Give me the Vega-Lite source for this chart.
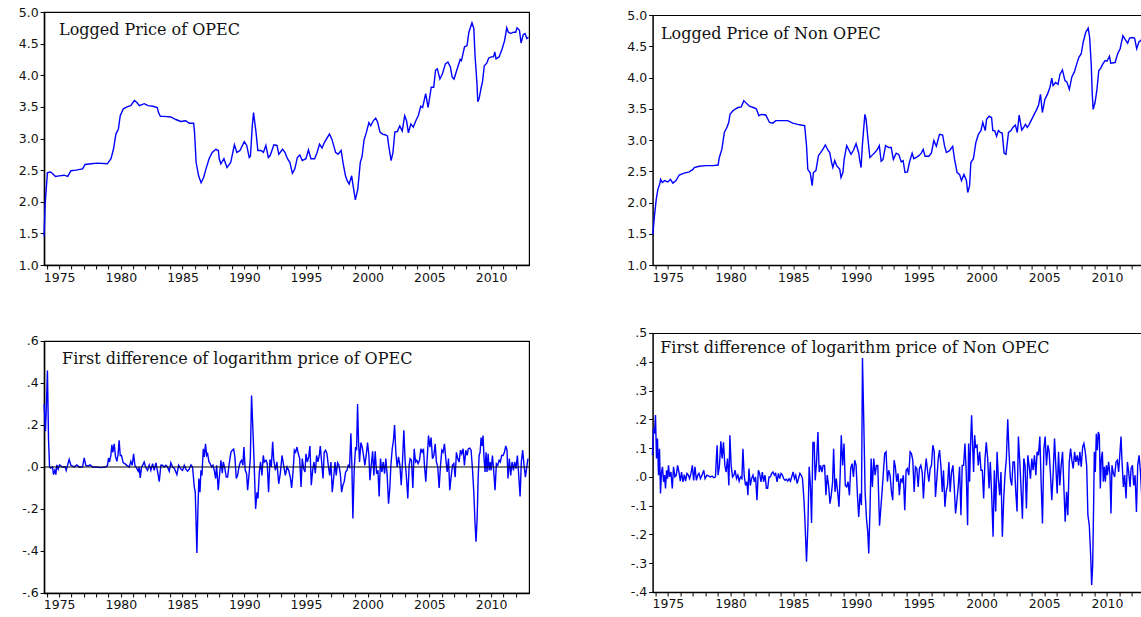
{
  "$schema": "https://vega.github.io/schema/vega-lite/v6.json",
  "background": "white",
  "padding": {"left": 17.1, "top": 5, "right": 0, "bottom": 0},
  "config": {
    "view": {"stroke": "black", "strokeWidth": 1.2},
    "axis": {"labelFont": "DejaVu Sans", "labelFontSize": 12.5, "labelColor": "#111", "tickColor": "black", "domainColor": "black", "domainWidth": 1.5, "tickWidth": 1, "grid": false, "title": null, "tickSize": 4, "labelPadding": 2, "labelOverlap": false, "labelFlush": false},
    "title": {"font": "DejaVu Serif", "fontSize": 16, "fontWeight": "normal", "anchor": "start", "frame": "group", "baseline": "alphabetic", "color": "#111"},
    "line": {"color": "#0000FF", "strokeWidth": 1.4, "clip": true}
  },
  "datasets": {
    "opec": [
      {"t":1973.78,"v":1.45},{"t":1973.86,"v":1.95},{"t":1974.05,"v":2.46},{"t":1974.3,"v":2.47},{"t":1974.5,"v":2.44},{"t":1974.7,"v":2.40},{"t":1975.0,"v":2.41},{"t":1975.4,"v":2.42},{"t":1975.7,"v":2.40},{"t":1975.95,"v":2.49},{"t":1976.35,"v":2.50},{"t":1976.9,"v":2.52},{"t":1977.1,"v":2.59},{"t":1977.6,"v":2.60},{"t":1978.1,"v":2.61},{"t":1978.9,"v":2.60},{"t":1979.2,"v":2.68},{"t":1979.4,"v":2.83},{"t":1979.6,"v":3.07},{"t":1979.8,"v":3.15},{"t":1979.95,"v":3.36},{"t":1980.2,"v":3.47},{"t":1980.5,"v":3.50},{"t":1980.8,"v":3.52},{"t":1981.1,"v":3.60},{"t":1981.3,"v":3.57},{"t":1981.5,"v":3.52},{"t":1981.9,"v":3.55},{"t":1982.2,"v":3.52},{"t":1982.6,"v":3.51},{"t":1982.95,"v":3.49},{"t":1983.05,"v":3.41},{"t":1983.2,"v":3.35},{"t":1983.5,"v":3.35},{"t":1984.05,"v":3.34},{"t":1984.45,"v":3.30},{"t":1984.85,"v":3.27},{"t":1985.25,"v":3.28},{"t":1985.55,"v":3.24},{"t":1985.9,"v":3.24},{"t":1985.97,"v":3.10},{"t":1986.1,"v":2.62},{"t":1986.3,"v":2.41},{"t":1986.5,"v":2.30},{"t":1986.7,"v":2.38},{"t":1986.9,"v":2.52},{"t":1987.15,"v":2.68},{"t":1987.4,"v":2.78},{"t":1987.7,"v":2.83},{"t":1987.9,"v":2.81},{"t":1987.97,"v":2.68},{"t":1988.1,"v":2.60},{"t":1988.35,"v":2.68},{"t":1988.6,"v":2.54},{"t":1988.9,"v":2.62},{"t":1989.2,"v":2.90},{"t":1989.4,"v":2.78},{"t":1989.65,"v":2.81},{"t":1990.0,"v":2.95},{"t":1990.2,"v":2.89},{"t":1990.4,"v":2.70},{"t":1990.5,"v":2.72},{"t":1990.65,"v":3.20},{"t":1990.75,"v":3.41},{"t":1990.95,"v":3.10},{"t":1991.1,"v":2.81},{"t":1991.35,"v":2.81},{"t":1991.55,"v":2.78},{"t":1991.75,"v":2.89},{"t":1991.95,"v":2.70},{"t":1992.1,"v":2.73},{"t":1992.4,"v":2.90},{"t":1992.65,"v":2.89},{"t":1992.8,"v":2.75},{"t":1993.1,"v":2.83},{"t":1993.3,"v":2.78},{"t":1993.5,"v":2.68},{"t":1993.7,"v":2.62},{"t":1993.9,"v":2.45},{"t":1994.1,"v":2.52},{"t":1994.3,"v":2.70},{"t":1994.5,"v":2.74},{"t":1994.7,"v":2.65},{"t":1995.0,"v":2.68},{"t":1995.2,"v":2.82},{"t":1995.4,"v":2.68},{"t":1995.7,"v":2.68},{"t":1995.9,"v":2.78},{"t":1996.1,"v":2.91},{"t":1996.3,"v":2.85},{"t":1996.5,"v":2.94},{"t":1996.9,"v":3.07},{"t":1997.1,"v":2.99},{"t":1997.4,"v":2.78},{"t":1997.6,"v":2.75},{"t":1997.85,"v":2.81},{"t":1998.0,"v":2.62},{"t":1998.2,"v":2.41},{"t":1998.35,"v":2.33},{"t":1998.5,"v":2.28},{"t":1998.7,"v":2.41},{"t":1998.8,"v":2.28},{"t":1999.0,"v":2.03},{"t":1999.2,"v":2.20},{"t":1999.4,"v":2.62},{"t":1999.55,"v":2.72},{"t":1999.7,"v":2.97},{"t":1999.9,"v":3.10},{"t":2000.1,"v":3.25},{"t":2000.25,"v":3.20},{"t":2000.45,"v":3.28},{"t":2000.65,"v":3.32},{"t":2000.8,"v":3.26},{"t":2001.0,"v":3.10},{"t":2001.2,"v":3.07},{"t":2001.4,"v":3.06},{"t":2001.6,"v":3.04},{"t":2001.7,"v":2.89},{"t":2001.9,"v":2.65},{"t":2002.05,"v":2.78},{"t":2002.2,"v":3.10},{"t":2002.4,"v":3.11},{"t":2002.6,"v":3.20},{"t":2002.8,"v":3.12},{"t":2003.0,"v":3.36},{"t":2003.15,"v":3.28},{"t":2003.3,"v":3.09},{"t":2003.5,"v":3.23},{"t":2003.7,"v":3.18},{"t":2003.9,"v":3.28},{"t":2004.1,"v":3.36},{"t":2004.3,"v":3.51},{"t":2004.45,"v":3.49},{"t":2004.7,"v":3.71},{"t":2004.9,"v":3.49},{"t":2005.15,"v":3.81},{"t":2005.35,"v":3.81},{"t":2005.5,"v":4.08},{"t":2005.65,"v":4.10},{"t":2005.85,"v":3.94},{"t":2006.05,"v":4.02},{"t":2006.3,"v":4.18},{"t":2006.5,"v":4.21},{"t":2006.7,"v":4.13},{"t":2006.85,"v":3.97},{"t":2007.0,"v":3.94},{"t":2007.3,"v":4.13},{"t":2007.5,"v":4.25},{"t":2007.6,"v":4.23},{"t":2007.85,"v":4.45},{"t":2008.05,"v":4.47},{"t":2008.2,"v":4.68},{"t":2008.45,"v":4.83},{"t":2008.6,"v":4.74},{"t":2008.7,"v":4.31},{"t":2008.85,"v":3.89},{"t":2008.92,"v":3.58},{"t":2009.03,"v":3.63},{"t":2009.2,"v":3.81},{"t":2009.3,"v":3.89},{"t":2009.45,"v":4.15},{"t":2009.65,"v":4.19},{"t":2009.8,"v":4.27},{"t":2010.0,"v":4.29},{"t":2010.2,"v":4.29},{"t":2010.3,"v":4.37},{"t":2010.4,"v":4.26},{"t":2010.65,"v":4.29},{"t":2010.9,"v":4.42},{"t":2011.1,"v":4.55},{"t":2011.27,"v":4.75},{"t":2011.4,"v":4.68},{"t":2011.6,"v":4.66},{"t":2011.8,"v":4.68},{"t":2012.0,"v":4.68},{"t":2012.1,"v":4.75},{"t":2012.3,"v":4.71},{"t":2012.43,"v":4.51},{"t":2012.6,"v":4.64},{"t":2012.75,"v":4.66},{"t":2012.9,"v":4.58},{"t":2013.03,"v":4.60}
    ],
    "nonopec": [
      {"t":1973.8,"v":1.49},{"t":1973.93,"v":1.79},{"t":1974.07,"v":2.05},{"t":1974.2,"v":2.21},{"t":1974.34,"v":2.29},{"t":1974.42,"v":2.37},{"t":1974.55,"v":2.32},{"t":1974.73,"v":2.35},{"t":1975.0,"v":2.33},{"t":1975.2,"v":2.37},{"t":1975.4,"v":2.31},{"t":1975.65,"v":2.35},{"t":1975.9,"v":2.44},{"t":1976.3,"v":2.47},{"t":1976.7,"v":2.49},{"t":1977.0,"v":2.53},{"t":1977.1,"v":2.56},{"t":1977.5,"v":2.58},{"t":1978.05,"v":2.59},{"t":1978.6,"v":2.59},{"t":1979.0,"v":2.60},{"t":1979.1,"v":2.72},{"t":1979.3,"v":2.85},{"t":1979.5,"v":3.12},{"t":1979.7,"v":3.20},{"t":1979.85,"v":3.28},{"t":1979.95,"v":3.41},{"t":1980.2,"v":3.47},{"t":1980.4,"v":3.50},{"t":1980.6,"v":3.52},{"t":1980.85,"v":3.53},{"t":1981.05,"v":3.63},{"t":1981.25,"v":3.59},{"t":1981.5,"v":3.54},{"t":1981.8,"v":3.52},{"t":1982.05,"v":3.50},{"t":1982.25,"v":3.39},{"t":1982.43,"v":3.41},{"t":1982.8,"v":3.40},{"t":1983.1,"v":3.28},{"t":1983.35,"v":3.27},{"t":1983.6,"v":3.31},{"t":1984.0,"v":3.31},{"t":1984.55,"v":3.31},{"t":1984.95,"v":3.27},{"t":1985.35,"v":3.25},{"t":1985.6,"v":3.24},{"t":1985.9,"v":3.23},{"t":1986.05,"v":2.91},{"t":1986.15,"v":2.53},{"t":1986.35,"v":2.47},{"t":1986.5,"v":2.27},{"t":1986.6,"v":2.48},{"t":1986.8,"v":2.51},{"t":1987.0,"v":2.75},{"t":1987.15,"v":2.79},{"t":1987.35,"v":2.85},{"t":1987.55,"v":2.92},{"t":1987.75,"v":2.84},{"t":1987.9,"v":2.80},{"t":1988.05,"v":2.64},{"t":1988.15,"v":2.56},{"t":1988.3,"v":2.67},{"t":1988.45,"v":2.59},{"t":1988.7,"v":2.53},{"t":1988.8,"v":2.40},{"t":1988.95,"v":2.48},{"t":1989.05,"v":2.69},{"t":1989.25,"v":2.91},{"t":1989.45,"v":2.83},{"t":1989.6,"v":2.77},{"t":1989.8,"v":2.84},{"t":1990.0,"v":2.94},{"t":1990.2,"v":2.80},{"t":1990.3,"v":2.67},{"t":1990.4,"v":2.56},{"t":1990.5,"v":2.91},{"t":1990.7,"v":3.41},{"t":1990.8,"v":3.33},{"t":1990.95,"v":3.01},{"t":1991.1,"v":2.72},{"t":1991.35,"v":2.77},{"t":1991.5,"v":2.80},{"t":1991.7,"v":2.85},{"t":1991.85,"v":2.91},{"t":1992.0,"v":2.66},{"t":1992.15,"v":2.69},{"t":1992.35,"v":2.91},{"t":1992.6,"v":2.88},{"t":1992.8,"v":2.88},{"t":1992.97,"v":2.69},{"t":1993.2,"v":2.79},{"t":1993.4,"v":2.77},{"t":1993.6,"v":2.65},{"t":1993.75,"v":2.67},{"t":1993.9,"v":2.48},{"t":1994.1,"v":2.49},{"t":1994.25,"v":2.64},{"t":1994.47,"v":2.79},{"t":1994.6,"v":2.70},{"t":1994.8,"v":2.72},{"t":1995.0,"v":2.75},{"t":1995.2,"v":2.79},{"t":1995.35,"v":2.85},{"t":1995.5,"v":2.74},{"t":1995.8,"v":2.74},{"t":1996.0,"v":2.79},{"t":1996.2,"v":2.99},{"t":1996.4,"v":2.90},{"t":1996.65,"v":3.09},{"t":1996.9,"v":3.08},{"t":1997.05,"v":2.91},{"t":1997.2,"v":2.80},{"t":1997.45,"v":2.83},{"t":1997.7,"v":2.90},{"t":1997.85,"v":2.69},{"t":1998.05,"v":2.48},{"t":1998.25,"v":2.45},{"t":1998.4,"v":2.35},{"t":1998.6,"v":2.45},{"t":1998.8,"v":2.35},{"t":1998.9,"v":2.16},{"t":1999.05,"v":2.27},{"t":1999.15,"v":2.64},{"t":1999.35,"v":2.70},{"t":1999.55,"v":2.96},{"t":1999.75,"v":3.09},{"t":1999.95,"v":3.15},{"t":2000.1,"v":3.28},{"t":2000.3,"v":3.15},{"t":2000.4,"v":3.33},{"t":2000.6,"v":3.38},{"t":2000.8,"v":3.36},{"t":2000.9,"v":3.15},{"t":2001.05,"v":3.15},{"t":2001.2,"v":3.06},{"t":2001.35,"v":3.15},{"t":2001.5,"v":3.12},{"t":2001.65,"v":3.11},{"t":2001.8,"v":2.79},{"t":2001.95,"v":2.77},{"t":2002.15,"v":3.12},{"t":2002.35,"v":3.15},{"t":2002.5,"v":3.20},{"t":2002.7,"v":3.24},{"t":2002.85,"v":3.12},{"t":2003.0,"v":3.40},{"t":2003.2,"v":3.16},{"t":2003.35,"v":3.20},{"t":2003.5,"v":3.25},{"t":2003.65,"v":3.20},{"t":2003.8,"v":3.25},{"t":2004.0,"v":3.33},{"t":2004.2,"v":3.41},{"t":2004.4,"v":3.49},{"t":2004.55,"v":3.56},{"t":2004.7,"v":3.73},{"t":2004.85,"v":3.44},{"t":2005.05,"v":3.65},{"t":2005.25,"v":3.73},{"t":2005.45,"v":3.84},{"t":2005.6,"v":3.99},{"t":2005.7,"v":3.87},{"t":2005.9,"v":3.92},{"t":2006.1,"v":3.89},{"t":2006.25,"v":4.05},{"t":2006.45,"v":4.12},{"t":2006.65,"v":3.95},{"t":2006.8,"v":3.93},{"t":2007.0,"v":3.81},{"t":2007.2,"v":4.01},{"t":2007.4,"v":4.09},{"t":2007.55,"v":4.19},{"t":2007.75,"v":4.32},{"t":2007.95,"v":4.38},{"t":2008.1,"v":4.56},{"t":2008.3,"v":4.72},{"t":2008.5,"v":4.79},{"t":2008.62,"v":4.64},{"t":2008.75,"v":4.19},{"t":2008.82,"v":3.76},{"t":2008.9,"v":3.49},{"t":2009.05,"v":3.60},{"t":2009.2,"v":3.81},{"t":2009.35,"v":4.11},{"t":2009.5,"v":4.15},{"t":2009.65,"v":4.21},{"t":2009.85,"v":4.27},{"t":2010.0,"v":4.26},{"t":2010.2,"v":4.34},{"t":2010.3,"v":4.23},{"t":2010.65,"v":4.24},{"t":2010.85,"v":4.38},{"t":2011.05,"v":4.46},{"t":2011.27,"v":4.67},{"t":2011.45,"v":4.61},{"t":2011.65,"v":4.55},{"t":2011.8,"v":4.63},{"t":2012.0,"v":4.64},{"t":2012.2,"v":4.63},{"t":2012.37,"v":4.46},{"t":2012.55,"v":4.57},{"t":2012.68,"v":4.59},{"t":2012.8,"v":4.62}
    ],
    "dopec": [
      {"t":1973.78,"v":0.30},{"t":1973.89,"v":0.17},{"t":1973.97,"v":0.30},{"t":1974.05,"v":0.46},{"t":1974.14,"v":0.13},{"t":1974.22,"v":0.0},{"t":1974.32,"v":-0.005},{"t":1974.46,"v":0.0},{"t":1974.54,"v":-0.036},{"t":1974.65,"v":-0.016},{"t":1974.73,"v":-0.036},{"t":1974.81,"v":0.01},{"t":1974.92,"v":-0.01},{"t":1975.03,"v":0.01},{"t":1975.27,"v":0.0},{"t":1975.49,"v":0.0},{"t":1975.57,"v":-0.016},{"t":1975.68,"v":0.008},{"t":1975.81,"v":0.036},{"t":1975.95,"v":0.008},{"t":1976.22,"v":0.0},{"t":1976.43,"v":0.01},{"t":1976.62,"v":0.0},{"t":1976.89,"v":0.0},{"t":1977.03,"v":0.043},{"t":1977.16,"v":0.008},{"t":1977.35,"v":0.005},{"t":1977.51,"v":0.01},{"t":1977.7,"v":0.0},{"t":1977.97,"v":0.0},{"t":1978.38,"v":-0.003},{"t":1978.78,"v":0.0},{"t":1978.92,"v":0.008},{"t":1979.0,"v":0.043},{"t":1979.08,"v":0.024},{"t":1979.19,"v":0.055},{"t":1979.27,"v":0.106},{"t":1979.35,"v":0.07},{"t":1979.46,"v":0.11},{"t":1979.57,"v":0.048},{"t":1979.68,"v":0.027},{"t":1979.78,"v":0.063},{"t":1979.86,"v":0.127},{"t":1979.95,"v":0.055},{"t":1980.05,"v":0.055},{"t":1980.19,"v":0.02},{"t":1980.32,"v":0.016},{"t":1980.49,"v":0.008},{"t":1980.68,"v":0.0},{"t":1980.81,"v":0.027},{"t":1980.92,"v":0.008},{"t":1981.03,"v":0.063},{"t":1981.14,"v":0.008},{"t":1981.3,"v":-0.008},{"t":1981.41,"v":-0.02},{"t":1981.49,"v":0.0},{"t":1981.57,"v":-0.052},{"t":1981.68,"v":0.0},{"t":1981.78,"v":0.01},{"t":1981.89,"v":0.024},{"t":1982.0,"v":0.0},{"t":1982.16,"v":-0.016},{"t":1982.3,"v":0.01},{"t":1982.43,"v":-0.016},{"t":1982.57,"v":0.016},{"t":1982.7,"v":-0.016},{"t":1982.84,"v":0.02},{"t":1982.97,"v":-0.02},{"t":1983.11,"v":-0.07},{"t":1983.24,"v":0.008},{"t":1983.38,"v":0.008},{"t":1983.51,"v":0.0},{"t":1983.65,"v":0.008},{"t":1983.78,"v":0.0},{"t":1983.92,"v":-0.02},{"t":1984.05,"v":0.02},{"t":1984.19,"v":0.0},{"t":1984.32,"v":-0.005},{"t":1984.54,"v":-0.036},{"t":1984.68,"v":0.008},{"t":1984.86,"v":-0.01},{"t":1985.0,"v":-0.016},{"t":1985.14,"v":0.008},{"t":1985.27,"v":-0.01},{"t":1985.41,"v":-0.02},{"t":1985.54,"v":-0.01},{"t":1985.68,"v":0.01},{"t":1985.81,"v":0.0},{"t":1985.95,"v":-0.095},{"t":1986.03,"v":-0.12},{"t":1986.16,"v":-0.41},{"t":1986.24,"v":-0.21},{"t":1986.32,"v":-0.055},{"t":1986.41,"v":-0.12},{"t":1986.49,"v":-0.016},{"t":1986.57,"v":-0.04},{"t":1986.68,"v":0.087},{"t":1986.76,"v":0.048},{"t":1986.86,"v":0.11},{"t":1986.95,"v":0.055},{"t":1987.03,"v":0.063},{"t":1987.14,"v":0.024},{"t":1987.24,"v":0.016},{"t":1987.35,"v":0.0},{"t":1987.46,"v":0.008},{"t":1987.57,"v":-0.016},{"t":1987.68,"v":-0.055},{"t":1987.76,"v":0.008},{"t":1987.89,"v":-0.11},{"t":1987.97,"v":-0.055},{"t":1988.11,"v":0.032},{"t":1988.22,"v":-0.03},{"t":1988.3,"v":0.024},{"t":1988.43,"v":-0.008},{"t":1988.54,"v":-0.048},{"t":1988.65,"v":-0.048},{"t":1988.78,"v":0.016},{"t":1988.92,"v":0.07},{"t":1989.03,"v":0.08},{"t":1989.14,"v":0.085},{"t":1989.24,"v":0.048},{"t":1989.35,"v":-0.055},{"t":1989.46,"v":-0.04},{"t":1989.57,"v":0.0},{"t":1989.68,"v":0.024},{"t":1989.78,"v":0.032},{"t":1989.89,"v":0.008},{"t":1989.97,"v":0.095},{"t":1990.08,"v":-0.016},{"t":1990.19,"v":-0.032},{"t":1990.27,"v":-0.11},{"t":1990.38,"v":-0.04},{"t":1990.49,"v":0.04},{"t":1990.59,"v":0.34},{"t":1990.7,"v":0.18},{"t":1990.81,"v":0.0},{"t":1990.92,"v":-0.20},{"t":1991.03,"v":-0.12},{"t":1991.11,"v":-0.15},{"t":1991.22,"v":-0.024},{"t":1991.32,"v":0.024},{"t":1991.43,"v":-0.04},{"t":1991.54,"v":0.055},{"t":1991.62,"v":0.024},{"t":1991.76,"v":0.032},{"t":1991.86,"v":0.016},{"t":1991.97,"v":-0.12},{"t":1992.08,"v":0.036},{"t":1992.19,"v":0.0},{"t":1992.3,"v":0.12},{"t":1992.38,"v":0.04},{"t":1992.52,"v":-0.016},{"t":1992.65,"v":0.024},{"t":1992.79,"v":-0.08},{"t":1992.92,"v":-0.03},{"t":1993.06,"v":0.055},{"t":1993.19,"v":0.008},{"t":1993.33,"v":-0.04},{"t":1993.46,"v":0.0},{"t":1993.6,"v":-0.016},{"t":1993.73,"v":-0.048},{"t":1993.84,"v":-0.10},{"t":1993.95,"v":-0.024},{"t":1994.06,"v":0.08},{"t":1994.16,"v":0.07},{"t":1994.27,"v":0.095},{"t":1994.38,"v":0.063},{"t":1994.49,"v":0.04},{"t":1994.6,"v":-0.095},{"t":1994.7,"v":0.04},{"t":1994.81,"v":-0.008},{"t":1994.92,"v":-0.024},{"t":1995.0,"v":0.063},{"t":1995.11,"v":0.024},{"t":1995.22,"v":0.048},{"t":1995.32,"v":0.10},{"t":1995.43,"v":-0.087},{"t":1995.54,"v":-0.016},{"t":1995.65,"v":0.024},{"t":1995.76,"v":-0.03},{"t":1995.86,"v":0.055},{"t":1995.97,"v":0.024},{"t":1996.08,"v":0.055},{"t":1996.16,"v":0.10},{"t":1996.27,"v":0.024},{"t":1996.38,"v":-0.055},{"t":1996.48,"v":0.07},{"t":1996.59,"v":0.08},{"t":1996.7,"v":0.063},{"t":1996.81,"v":0.008},{"t":1996.92,"v":-0.04},{"t":1997.02,"v":0.024},{"t":1997.13,"v":-0.12},{"t":1997.24,"v":-0.055},{"t":1997.35,"v":0.024},{"t":1997.45,"v":-0.04},{"t":1997.56,"v":0.02},{"t":1997.67,"v":0.008},{"t":1997.78,"v":-0.03},{"t":1997.89,"v":-0.12},{"t":1997.99,"v":-0.087},{"t":1998.1,"v":-0.07},{"t":1998.21,"v":-0.024},{"t":1998.32,"v":-0.016},{"t":1998.43,"v":0.008},{"t":1998.53,"v":0.0},{"t":1998.64,"v":0.16},{"t":1998.72,"v":0.008},{"t":1998.8,"v":-0.245},{"t":1998.91,"v":-0.008},{"t":1999.02,"v":0.095},{"t":1999.1,"v":0.08},{"t":1999.18,"v":0.30},{"t":1999.26,"v":0.12},{"t":1999.34,"v":0.024},{"t":1999.45,"v":0.116},{"t":1999.56,"v":0.095},{"t":1999.67,"v":0.052},{"t":1999.77,"v":0.008},{"t":1999.88,"v":0.055},{"t":1999.99,"v":0.116},{"t":2000.1,"v":0.055},{"t":2000.18,"v":-0.063},{"t":2000.29,"v":0.008},{"t":2000.4,"v":0.075},{"t":2000.5,"v":-0.04},{"t":2000.61,"v":0.075},{"t":2000.72,"v":-0.032},{"t":2000.83,"v":-0.016},{"t":2000.93,"v":-0.14},{"t":2001.04,"v":0.04},{"t":2001.15,"v":-0.024},{"t":2001.26,"v":0.024},{"t":2001.37,"v":-0.032},{"t":2001.47,"v":0.04},{"t":2001.58,"v":-0.04},{"t":2001.69,"v":-0.175},{"t":2001.8,"v":-0.095},{"t":2001.88,"v":0.008},{"t":2001.99,"v":0.087},{"t":2002.09,"v":0.127},{"t":2002.18,"v":0.20},{"t":2002.28,"v":0.07},{"t":2002.39,"v":0.0},{"t":2002.5,"v":0.048},{"t":2002.61,"v":0.008},{"t":2002.72,"v":-0.087},{"t":2002.82,"v":0.024},{"t":2002.93,"v":0.175},{"t":2003.04,"v":0.024},{"t":2003.15,"v":-0.055},{"t":2003.25,"v":-0.15},{"t":2003.36,"v":0.008},{"t":2003.44,"v":0.04},{"t":2003.55,"v":0.032},{"t":2003.66,"v":-0.10},{"t":2003.77,"v":0.087},{"t":2003.88,"v":0.024},{"t":2003.98,"v":0.032},{"t":2004.09,"v":0.016},{"t":2004.2,"v":0.032},{"t":2004.31,"v":0.087},{"t":2004.41,"v":0.07},{"t":2004.52,"v":0.087},{"t":2004.6,"v":0.008},{"t":2004.71,"v":-0.07},{"t":2004.82,"v":0.04},{"t":2004.93,"v":0.15},{"t":2005.04,"v":0.095},{"t":2005.14,"v":0.14},{"t":2005.25,"v":0.04},{"t":2005.36,"v":0.055},{"t":2005.47,"v":0.11},{"t":2005.57,"v":0.024},{"t":2005.68,"v":0.0},{"t":2005.79,"v":-0.10},{"t":2005.9,"v":0.008},{"t":2006.01,"v":0.08},{"t":2006.11,"v":0.07},{"t":2006.22,"v":0.11},{"t":2006.33,"v":0.04},{"t":2006.44,"v":-0.024},{"t":2006.55,"v":0.04},{"t":2006.65,"v":-0.11},{"t":2006.76,"v":-0.048},{"t":2006.87,"v":0.008},{"t":2006.98,"v":0.016},{"t":2007.09,"v":-0.048},{"t":2007.19,"v":0.07},{"t":2007.3,"v":0.04},{"t":2007.41,"v":0.024},{"t":2007.52,"v":0.08},{"t":2007.62,"v":0.063},{"t":2007.73,"v":0.087},{"t":2007.84,"v":0.008},{"t":2007.95,"v":0.08},{"t":2008.06,"v":0.055},{"t":2008.16,"v":0.087},{"t":2008.27,"v":0.09},{"t":2008.38,"v":0.08},{"t":2008.49,"v":-0.008},{"t":2008.6,"v":-0.12},{"t":2008.7,"v":-0.27},{"t":2008.78,"v":-0.356},{"t":2008.87,"v":-0.245},{"t":2008.95,"v":-0.055},{"t":2009.03,"v":0.055},{"t":2009.11,"v":0.07},{"t":2009.19,"v":0.14},{"t":2009.27,"v":0.10},{"t":2009.35,"v":0.15},{"t":2009.43,"v":0.04},{"t":2009.51,"v":-0.024},{"t":2009.59,"v":0.07},{"t":2009.67,"v":-0.024},{"t":2009.76,"v":0.063},{"t":2009.84,"v":-0.016},{"t":2009.92,"v":0.024},{"t":2010.0,"v":-0.016},{"t":2010.11,"v":0.055},{"t":2010.21,"v":-0.016},{"t":2010.32,"v":-0.11},{"t":2010.43,"v":0.016},{"t":2010.54,"v":0.008},{"t":2010.65,"v":0.032},{"t":2010.75,"v":0.024},{"t":2010.86,"v":0.055},{"t":2010.97,"v":0.055},{"t":2011.08,"v":0.07},{"t":2011.19,"v":0.10},{"t":2011.29,"v":0.08},{"t":2011.37,"v":-0.055},{"t":2011.48,"v":0.04},{"t":2011.59,"v":-0.04},{"t":2011.7,"v":0.024},{"t":2011.81,"v":-0.016},{"t":2011.91,"v":0.024},{"t":2012.02,"v":-0.008},{"t":2012.13,"v":0.055},{"t":2012.24,"v":-0.04},{"t":2012.35,"v":-0.14},{"t":2012.45,"v":0.024},{"t":2012.56,"v":0.08},{"t":2012.67,"v":0.008},{"t":2012.78,"v":-0.048},{"t":2012.89,"v":0.0},{"t":2012.99,"v":0.04}
    ],
    "dnonopec": [
      {"t":1973.77,"v":0.075},{"t":1973.85,"v":0.168},{"t":1973.93,"v":0.15},{"t":1974.01,"v":0.215},{"t":1974.09,"v":0.064},{"t":1974.17,"v":0.133},{"t":1974.25,"v":0.006},{"t":1974.33,"v":0.098},{"t":1974.41,"v":-0.058},{"t":1974.49,"v":0.017},{"t":1974.57,"v":0.035},{"t":1974.65,"v":-0.017},{"t":1974.73,"v":0.006},{"t":1974.81,"v":-0.04},{"t":1974.89,"v":0.023},{"t":1974.97,"v":-0.006},{"t":1975.05,"v":0.04},{"t":1975.13,"v":0.0},{"t":1975.24,"v":0.017},{"t":1975.35,"v":-0.04},{"t":1975.45,"v":0.035},{"t":1975.56,"v":0.0},{"t":1975.67,"v":0.006},{"t":1975.77,"v":0.04},{"t":1975.88,"v":0.017},{"t":1975.99,"v":-0.015},{"t":1976.09,"v":0.017},{"t":1976.2,"v":-0.017},{"t":1976.31,"v":0.008},{"t":1976.41,"v":-0.015},{"t":1976.52,"v":0.012},{"t":1976.63,"v":0.006},{"t":1976.73,"v":-0.006},{"t":1976.84,"v":0.012},{"t":1976.95,"v":0.04},{"t":1977.05,"v":-0.012},{"t":1977.16,"v":0.035},{"t":1977.27,"v":-0.012},{"t":1977.38,"v":0.006},{"t":1977.48,"v":0.012},{"t":1977.59,"v":-0.006},{"t":1977.72,"v":0.006},{"t":1977.86,"v":0.023},{"t":1977.96,"v":-0.006},{"t":1978.12,"v":0.006},{"t":1978.26,"v":0.003},{"t":1978.39,"v":0.0},{"t":1978.52,"v":0.003},{"t":1978.66,"v":-0.003},{"t":1978.79,"v":0.0},{"t":1978.92,"v":0.11},{"t":1979.0,"v":0.006},{"t":1979.11,"v":0.04},{"t":1979.22,"v":0.124},{"t":1979.32,"v":0.064},{"t":1979.43,"v":0.12},{"t":1979.54,"v":0.04},{"t":1979.64,"v":0.017},{"t":1979.75,"v":0.064},{"t":1979.86,"v":-0.03},{"t":1979.94,"v":0.145},{"t":1980.04,"v":0.04},{"t":1980.15,"v":0.0},{"t":1980.26,"v":0.006},{"t":1980.36,"v":0.023},{"t":1980.47,"v":-0.006},{"t":1980.58,"v":0.006},{"t":1980.68,"v":-0.015},{"t":1980.79,"v":0.0},{"t":1980.9,"v":-0.006},{"t":1980.98,"v":0.098},{"t":1981.08,"v":0.006},{"t":1981.19,"v":-0.03},{"t":1981.3,"v":-0.017},{"t":1981.38,"v":-0.064},{"t":1981.46,"v":0.029},{"t":1981.57,"v":-0.03},{"t":1981.67,"v":-0.006},{"t":1981.78,"v":0.006},{"t":1981.89,"v":-0.017},{"t":1981.99,"v":0.0},{"t":1982.1,"v":-0.081},{"t":1982.21,"v":0.023},{"t":1982.31,"v":0.012},{"t":1982.42,"v":-0.017},{"t":1982.53,"v":0.017},{"t":1982.63,"v":-0.017},{"t":1982.74,"v":0.006},{"t":1982.85,"v":-0.04},{"t":1982.95,"v":-0.04},{"t":1983.06,"v":0.0},{"t":1983.17,"v":0.0},{"t":1983.27,"v":0.012},{"t":1983.38,"v":0.017},{"t":1983.49,"v":0.006},{"t":1983.59,"v":0.012},{"t":1983.7,"v":-0.017},{"t":1983.81,"v":0.012},{"t":1983.91,"v":-0.006},{"t":1984.02,"v":0.012},{"t":1984.13,"v":0.006},{"t":1984.23,"v":-0.006},{"t":1984.34,"v":-0.012},{"t":1984.45,"v":-0.008},{"t":1984.55,"v":-0.015},{"t":1984.66,"v":-0.006},{"t":1984.77,"v":-0.015},{"t":1984.87,"v":0.0},{"t":1984.98,"v":0.017},{"t":1985.09,"v":-0.006},{"t":1985.19,"v":0.006},{"t":1985.3,"v":-0.023},{"t":1985.41,"v":-0.006},{"t":1985.52,"v":0.012},{"t":1985.62,"v":0.006},{"t":1985.73,"v":-0.006},{"t":1985.84,"v":-0.075},{"t":1985.94,"v":-0.17},{"t":1986.05,"v":-0.295},{"t":1986.16,"v":-0.17},{"t":1986.26,"v":0.035},{"t":1986.37,"v":-0.04},{"t":1986.45,"v":-0.16},{"t":1986.56,"v":0.12},{"t":1986.66,"v":0.12},{"t":1986.74,"v":-0.012},{"t":1986.85,"v":0.052},{"t":1986.96,"v":0.156},{"t":1987.06,"v":0.017},{"t":1987.17,"v":0.04},{"t":1987.28,"v":0.017},{"t":1987.38,"v":0.04},{"t":1987.49,"v":0.04},{"t":1987.6,"v":-0.064},{"t":1987.7,"v":0.006},{"t":1987.81,"v":-0.03},{"t":1987.92,"v":-0.093},{"t":1988.02,"v":-0.064},{"t":1988.13,"v":-0.017},{"t":1988.21,"v":0.098},{"t":1988.32,"v":-0.052},{"t":1988.42,"v":-0.006},{"t":1988.53,"v":-0.052},{"t":1988.64,"v":-0.104},{"t":1988.74,"v":0.017},{"t":1988.82,"v":0.145},{"t":1988.93,"v":0.04},{"t":1989.04,"v":0.116},{"t":1989.14,"v":-0.03},{"t":1989.25,"v":-0.035},{"t":1989.36,"v":-0.017},{"t":1989.47,"v":-0.064},{"t":1989.57,"v":0.029},{"t":1989.68,"v":0.046},{"t":1989.79,"v":0.0},{"t":1989.89,"v":0.058},{"t":1990.0,"v":0.04},{"t":1990.11,"v":-0.064},{"t":1990.21,"v":-0.139},{"t":1990.32,"v":-0.058},{"t":1990.43,"v":-0.098},{"t":1990.51,"v":0.413},{"t":1990.61,"v":0.20},{"t":1990.72,"v":-0.052},{"t":1990.83,"v":-0.145},{"t":1990.93,"v":-0.19},{"t":1991.01,"v":-0.266},{"t":1991.12,"v":-0.098},{"t":1991.2,"v":0.064},{"t":1991.3,"v":-0.035},{"t":1991.41,"v":0.064},{"t":1991.52,"v":0.006},{"t":1991.62,"v":0.04},{"t":1991.73,"v":0.04},{"t":1991.87,"v":-0.17},{"t":1992.07,"v":-0.052},{"t":1992.18,"v":0.017},{"t":1992.28,"v":0.081},{"t":1992.39,"v":0.087},{"t":1992.5,"v":-0.017},{"t":1992.6,"v":0.023},{"t":1992.71,"v":0.006},{"t":1992.82,"v":-0.052},{"t":1992.92,"v":-0.081},{"t":1993.03,"v":0.058},{"t":1993.13,"v":0.035},{"t":1993.24,"v":-0.017},{"t":1993.35,"v":0.012},{"t":1993.45,"v":-0.064},{"t":1993.56,"v":-0.006},{"t":1993.67,"v":-0.017},{"t":1993.77,"v":0.006},{"t":1993.88,"v":-0.116},{"t":1993.99,"v":0.023},{"t":1994.09,"v":0.029},{"t":1994.2,"v":0.006},{"t":1994.31,"v":0.087},{"t":1994.41,"v":0.081},{"t":1994.52,"v":0.058},{"t":1994.63,"v":-0.052},{"t":1994.73,"v":0.035},{"t":1994.84,"v":0.029},{"t":1994.95,"v":-0.035},{"t":1995.05,"v":0.029},{"t":1995.16,"v":0.04},{"t":1995.27,"v":0.017},{"t":1995.37,"v":-0.075},{"t":1995.48,"v":0.012},{"t":1995.59,"v":0.064},{"t":1995.69,"v":0.023},{"t":1995.8,"v":-0.017},{"t":1995.91,"v":0.029},{"t":1996.01,"v":0.04},{"t":1996.12,"v":0.11},{"t":1996.23,"v":0.087},{"t":1996.33,"v":-0.07},{"t":1996.44,"v":-0.006},{"t":1996.55,"v":0.064},{"t":1996.65,"v":0.093},{"t":1996.76,"v":0.04},{"t":1996.87,"v":-0.052},{"t":1996.97,"v":0.023},{"t":1997.08,"v":-0.104},{"t":1997.18,"v":-0.052},{"t":1997.29,"v":-0.03},{"t":1997.4,"v":0.052},{"t":1997.5,"v":-0.052},{"t":1997.61,"v":0.017},{"t":1997.72,"v":0.04},{"t":1997.82,"v":-0.03},{"t":1997.93,"v":-0.127},{"t":1998.04,"v":-0.081},{"t":1998.14,"v":-0.035},{"t":1998.25,"v":0.035},{"t":1998.36,"v":-0.133},{"t":1998.46,"v":0.04},{"t":1998.57,"v":0.04},{"t":1998.68,"v":0.116},{"t":1998.78,"v":0.017},{"t":1998.89,"v":-0.168},{"t":1998.97,"v":0.116},{"t":1999.05,"v":-0.017},{"t":1999.13,"v":0.12},{"t":1999.21,"v":0.214},{"t":1999.29,"v":0.11},{"t":1999.37,"v":0.017},{"t":1999.45,"v":0.145},{"t":1999.53,"v":0.104},{"t":1999.64,"v":0.11},{"t":1999.74,"v":0.04},{"t":1999.85,"v":0.087},{"t":1999.96,"v":0.023},{"t":2000.06,"v":0.023},{"t":2000.17,"v":-0.075},{"t":2000.28,"v":0.064},{"t":2000.38,"v":0.12},{"t":2000.49,"v":0.064},{"t":2000.6,"v":-0.04},{"t":2000.7,"v":0.052},{"t":2000.81,"v":-0.064},{"t":2000.92,"v":-0.208},{"t":2001.02,"v":0.023},{"t":2001.13,"v":-0.12},{"t":2001.24,"v":0.087},{"t":2001.34,"v":-0.006},{"t":2001.45,"v":-0.064},{"t":2001.55,"v":0.017},{"t":2001.66,"v":-0.208},{"t":2001.77,"v":-0.075},{"t":2001.87,"v":0.006},{"t":2001.98,"v":0.064},{"t":2002.09,"v":0.20},{"t":2002.19,"v":0.087},{"t":2002.3,"v":-0.006},{"t":2002.41,"v":-0.03},{"t":2002.51,"v":0.052},{"t":2002.62,"v":0.052},{"t":2002.73,"v":-0.052},{"t":2002.83,"v":-0.12},{"t":2002.94,"v":0.14},{"t":2003.05,"v":0.052},{"t":2003.15,"v":-0.04},{"t":2003.26,"v":-0.145},{"t":2003.37,"v":0.064},{"t":2003.47,"v":0.04},{"t":2003.58,"v":-0.11},{"t":2003.69,"v":0.075},{"t":2003.79,"v":0.04},{"t":2003.9,"v":-0.006},{"t":2004.01,"v":0.064},{"t":2004.11,"v":0.023},{"t":2004.22,"v":0.075},{"t":2004.33,"v":0.006},{"t":2004.43,"v":0.087},{"t":2004.54,"v":0.075},{"t":2004.65,"v":0.14},{"t":2004.75,"v":-0.017},{"t":2004.86,"v":-0.162},{"t":2004.97,"v":0.098},{"t":2005.07,"v":0.14},{"t":2005.18,"v":0.04},{"t":2005.29,"v":0.11},{"t":2005.39,"v":0.087},{"t":2005.5,"v":0.006},{"t":2005.6,"v":-0.081},{"t":2005.71,"v":0.012},{"t":2005.82,"v":0.133},{"t":2005.92,"v":0.04},{"t":2006.03,"v":-0.058},{"t":2006.14,"v":0.087},{"t":2006.24,"v":-0.03},{"t":2006.35,"v":0.04},{"t":2006.46,"v":0.087},{"t":2006.56,"v":-0.03},{"t":2006.67,"v":-0.156},{"t":2006.78,"v":-0.052},{"t":2006.88,"v":-0.133},{"t":2006.99,"v":0.052},{"t":2007.1,"v":0.098},{"t":2007.2,"v":0.058},{"t":2007.31,"v":0.029},{"t":2007.42,"v":0.087},{"t":2007.52,"v":0.052},{"t":2007.63,"v":0.075},{"t":2007.74,"v":0.04},{"t":2007.84,"v":0.087},{"t":2007.95,"v":0.035},{"t":2008.06,"v":0.104},{"t":2008.16,"v":0.116},{"t":2008.27,"v":0.087},{"t":2008.38,"v":0.04},{"t":2008.48,"v":-0.133},{"t":2008.59,"v":-0.168},{"t":2008.7,"v":-0.272},{"t":2008.78,"v":-0.376},{"t":2008.86,"v":-0.307},{"t":2008.94,"v":-0.087},{"t":2008.99,"v":0.087},{"t":2009.07,"v":0.017},{"t":2009.15,"v":0.15},{"t":2009.23,"v":0.093},{"t":2009.31,"v":0.156},{"t":2009.39,"v":0.145},{"t":2009.47,"v":-0.04},{"t":2009.55,"v":0.064},{"t":2009.63,"v":0.087},{"t":2009.71,"v":-0.017},{"t":2009.79,"v":0.035},{"t":2009.87,"v":-0.017},{"t":2009.95,"v":0.04},{"t":2010.03,"v":0.006},{"t":2010.13,"v":0.052},{"t":2010.24,"v":0.006},{"t":2010.32,"v":-0.127},{"t":2010.4,"v":0.04},{"t":2010.51,"v":0.012},{"t":2010.61,"v":0.0},{"t":2010.72,"v":0.052},{"t":2010.83,"v":0.058},{"t":2010.93,"v":0.017},{"t":2011.04,"v":0.087},{"t":2011.12,"v":0.14},{"t":2011.2,"v":0.052},{"t":2011.31,"v":-0.035},{"t":2011.41,"v":0.006},{"t":2011.52,"v":-0.075},{"t":2011.63,"v":0.052},{"t":2011.73,"v":0.017},{"t":2011.84,"v":-0.035},{"t":2011.92,"v":0.029},{"t":2012.03,"v":0.04},{"t":2012.13,"v":-0.03},{"t":2012.24,"v":0.006},{"t":2012.35,"v":-0.122},{"t":2012.45,"v":0.04},{"t":2012.56,"v":0.075},{"t":2012.67,"v":0.017},{"t":2012.77,"v":-0.064},{"t":2012.88,"v":0.064}
    ]
  },
  "spacing": 94.5,
  "hconcat": [
    {
      "spacing": 76,
      "bounds": "flush",
      "vconcat": [
        {
          "width": 485, "height": 253,
          "data": {"name": "opec"},
          "title": {"text": "Logged Price of OPEC", "offset": -31.5, "dx": 15},
          "mark": "line",
          "encoding": {
            "x": {"field": "t", "type": "quantitative", "scale": {"domain": [1973.78, 2013.08], "nice": false, "zero": false},
                  "axis": {"values": [1974,1975,1976,1977,1978,1979,1980,1981,1982,1983,1984,1985,1986,1987,1988,1989,1990,1991,1992,1993,1994,1995,1996,1997,1998,1999,2000,2001,2002,2003,2004,2005,2006,2007,2008,2009,2010,2011,2012], "labelExpr": "datum.value % 5 === 0 ? '' + datum.value : ''"}},
            "y": {"field": "v", "type": "quantitative", "scale": {"domain": [1, 5], "nice": false, "zero": false},
                  "axis": {"values": [1,1.5,2,2.5,3,3.5,4,4.5,5], "format": ".1f"}}
          }
        },
        {
          "width": 485, "height": 252,
          "title": {"text": "First difference of logarithm price of OPEC", "offset": -32, "dx": 18},
          "layer": [
            {
              "data": {"name": "dopec"},
              "mark": "line",
              "encoding": {
                "x": {"field": "t", "type": "quantitative", "scale": {"domain": [1973.78, 2013.08], "nice": false, "zero": false},
                      "axis": {"values": [1974,1975,1976,1977,1978,1979,1980,1981,1982,1983,1984,1985,1986,1987,1988,1989,1990,1991,1992,1993,1994,1995,1996,1997,1998,1999,2000,2001,2002,2003,2004,2005,2006,2007,2008,2009,2010,2011,2012], "labelExpr": "datum.value % 5 === 0 ? '' + datum.value : ''"}},
                "y": {"field": "v", "type": "quantitative", "scale": {"domain": [-0.6, 0.6], "nice": false, "zero": false},
                      "axis": {"values": [-0.6,-0.4,-0.2,0,0.2,0.4,0.6], "labelExpr": "abs(datum.value) < 0.001 ? '.0' : (datum.value < 0 ? '-' : '') + '.' + format(abs(datum.value) * 10, '.0f')"}}
              }
            },
            {
              "data": {"values": [{}]},
              "mark": {"type": "rule", "color": "black", "strokeWidth": 1},
              "encoding": {"y": {"datum": 0}}
            }
          ]
        }
      ]
    },
    {
      "spacing": 2,
      "bounds": "flush",
      "vconcat": [
        {
          "width": 488, "height": 1,
          "view": {"stroke": null},
          "data": {"values": [{}]},
          "mark": {"type": "point", "opacity": 0, "size": 1},
          "encoding": {}
        },
        {
          "spacing": 68,
          "bounds": "flush",
          "vconcat": [
            {
              "width": 488, "height": 250,
              "view": {"stroke": null},
              "title": {"text": "Logged Price of Non OPEC", "offset": -32.7, "dx": 8.4},
              "layer": [
                {
                  "data": {"name": "nonopec"},
                  "mark": "line",
                  "encoding": {
                    "x": {"field": "t", "type": "quantitative", "scale": {"domain": [1973.78, 2012.68], "nice": false, "zero": false},
                          "axis": {"values": [1974,1975,1976,1977,1978,1979,1980,1981,1982,1983,1984,1985,1986,1987,1988,1989,1990,1991,1992,1993,1994,1995,1996,1997,1998,1999,2000,2001,2002,2003,2004,2005,2006,2007,2008,2009,2010,2011,2012], "labelExpr": "datum.value % 5 === 0 ? '' + datum.value : ''"}},
                    "y": {"field": "v", "type": "quantitative", "scale": {"domain": [1, 5], "nice": false, "zero": false},
                          "axis": {"values": [1,1.5,2,2.5,3,3.5,4,4.5,5], "format": ".1f"}}
                  }
                },
                {
                  "data": {"values": [{}]},
                  "mark": {"type": "rule", "opacity": 0},
                  "encoding": {"x": {"datum": 2000, "type": "quantitative", "axis": {"orient": "top", "labels": false, "ticks": false, "domain": true, "domainWidth": 1.2}}}
                }
              ],
              "resolve": {"axis": {"x": "independent"}}
            },
            {
              "width": 488, "height": 259,
              "view": {"stroke": null},
              "title": {"text": "First difference of logarithm price of Non OPEC", "offset": -29.4, "dx": 7.6},
              "layer": [
                {
                  "data": {"name": "dnonopec"},
                  "mark": "line",
                  "encoding": {
                    "x": {"field": "t", "type": "quantitative", "scale": {"domain": [1973.78, 2012.68], "nice": false, "zero": false},
                          "axis": {"values": [1974,1975,1976,1977,1978,1979,1980,1981,1982,1983,1984,1985,1986,1987,1988,1989,1990,1991,1992,1993,1994,1995,1996,1997,1998,1999,2000,2001,2002,2003,2004,2005,2006,2007,2008,2009,2010,2011,2012], "labelExpr": "datum.value % 5 === 0 ? '' + datum.value : ''"}},
                    "y": {"field": "v", "type": "quantitative", "scale": {"domain": [-0.4, 0.5], "nice": false, "zero": false},
                          "axis": {"values": [-0.4,-0.3,-0.2,-0.1,0,0.1,0.2,0.3,0.4,0.5], "labelExpr": "abs(datum.value) < 0.001 ? '.0' : (datum.value < 0 ? '-' : '') + '.' + format(abs(datum.value) * 10, '.0f')"}}
                  }
                },
                {
                  "data": {"values": [{}]},
                  "mark": {"type": "rule", "opacity": 0},
                  "encoding": {"x": {"datum": 2000, "type": "quantitative", "axis": {"orient": "top", "labels": false, "ticks": false, "domain": true, "domainWidth": 1.2}}}
                }
              ],
              "resolve": {"axis": {"x": "independent"}}
            }
          ]
        }
      ]
    }
  ]
}
